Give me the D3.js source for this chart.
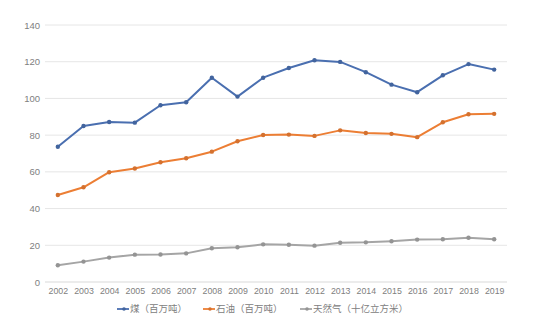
<!DOCTYPE html>
<html>
<head>
<meta charset="utf-8">
<script src="https://cdn.jsdelivr.net/npm/d3@7"></script>
<style>
  html, body { margin: 0; padding: 0; background: #fff; }
  svg { display: block; font-family: "Noto Sans CJK SC", "Liberation Sans", sans-serif; }
</style>
</head>
<body>
<svg id="chart" width="555" height="328"></svg>
<script>
// Energy consumption by year
const years = ["2002","2003","2004","2005","2006","2007","2008","2009","2010","2011","2012","2013","2014","2015","2016","2017","2018","2019"];
const coal = [73.7, 85.0, 87.2, 86.8, 96.3, 97.9, 111.3, 101.0, 111.3, 116.6, 120.8, 119.9, 114.3, 107.5, 103.4, 112.6, 118.7, 115.7];
const oil  = [47.4, 51.6, 59.8, 61.8, 65.2, 67.4, 71.0, 76.7, 80.1, 80.3, 79.6, 82.6, 81.2, 80.7, 78.9, 87.0, 91.4, 91.6];
const gas  = [9.1, 11.1, 13.3, 14.9, 15.0, 15.6, 18.4, 18.9, 20.5, 20.3, 19.8, 21.4, 21.6, 22.2, 23.1, 23.3, 24.1, 23.3];
const seriesNames = ["煤（百万吨）", "石油（百万吨）", "天然气（十亿立方米）"];
const seriesColors = ["#4a6fb0", "#ec7e34", "#a5a5a5"];
const yTicks = [0, 20, 40, 60, 80, 100, 120, 140];

const series = [coal, oil, gas].map((values, i) => ({
  name: seriesNames[i], color: seriesColors[i], values
}));

const svg = d3.select("#chart");
const plot = { left: 45, right: 507, top: 25, bottom: 282 };

const x = d3.scalePoint().domain(years).range([plot.left, plot.right]).padding(0.5);
const y = d3.scaleLinear().domain([0, 140]).range([plot.bottom, plot.top]);

// horizontal gridlines
svg.append("g")
  .selectAll("line")
  .data(yTicks)
  .join("line")
  .attr("x1", plot.left).attr("x2", plot.right)
  .attr("y1", d => y(d)).attr("y2", d => y(d))
  .attr("stroke", d => d === 0 ? "#d9d9d9" : "#e6e6e6")
  .attr("stroke-width", 1);

// y axis labels
const yAxis = d3.axisLeft(y).tickValues(yTicks).tickSize(0).tickPadding(5);
svg.append("g")
  .attr("transform", `translate(${plot.left},0)`)
  .call(yAxis)
  .call(g => g.select(".domain").remove())
  .call(g => g.selectAll("text")
    .attr("fill", "#808080")
    .attr("font-size", 9.5)
    .attr("font-family", "Liberation Sans, sans-serif"));

// x axis labels
const xAxis = d3.axisBottom(x).tickSize(0).tickPadding(6);
svg.append("g")
  .attr("transform", `translate(0,${plot.bottom})`)
  .call(xAxis)
  .call(g => g.select(".domain").remove())
  .call(g => g.selectAll("text")
    .attr("fill", "#808080")
    .attr("font-size", 8.8)
    .attr("font-family", "Liberation Sans, sans-serif"));

// lines and markers
const line = d3.line().x((d, i) => x(years[i])).y(d => y(d));

const sg = svg.append("g")
  .selectAll("g")
  .data(series)
  .join("g");

sg.append("path")
  .attr("d", d => line(d.values))
  .attr("fill", "none")
  .attr("stroke", d => d.color)
  .attr("stroke-width", 2)
  .attr("stroke-linejoin", "round");

sg.selectAll("circle")
  .data(d => d.values.map((v, i) => ({ v, i, color: d.color })))
  .join("circle")
  .attr("cx", d => x(years[d.i]))
  .attr("cy", d => y(d.v))
  .attr("r", 2.2)
  .attr("fill", d => d3.color(d.color).darker(0.3))
  .attr("stroke", "none");

// legend
const legendX = [117, 203, 300];
const legendY = 309;
const lg = svg.append("g")
  .selectAll("g")
  .data(series)
  .join("g")
  .attr("transform", (d, i) => `translate(${legendX[i]},${legendY})`);

lg.append("line")
  .attr("x1", 0).attr("x2", 12)
  .attr("y1", 0).attr("y2", 0)
  .attr("stroke", d => d.color)
  .attr("stroke-width", 1.8);
lg.append("circle")
  .attr("cx", 7).attr("cy", 0).attr("r", 1.8)
  .attr("fill", d => d3.color(d.color).darker(0.3));
lg.append("text")
  .attr("x", 13).attr("y", 0)
  .attr("dy", "0.35em")
  .attr("font-size", 9.5)
  .attr("fill", "#808080")
  .text(d => d.name);
</script>
</body>
</html>
